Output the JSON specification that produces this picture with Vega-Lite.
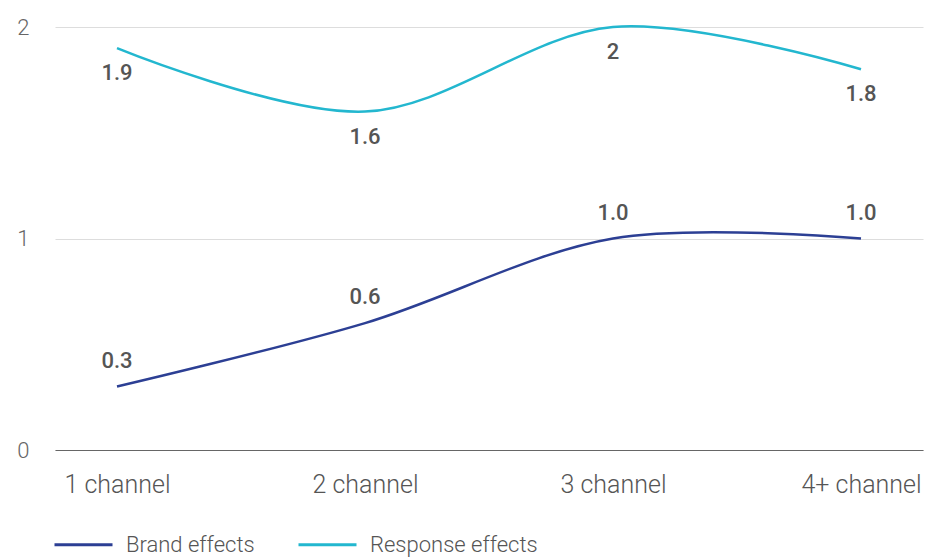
{
  "$schema": "https://vega.github.io/schema/vega-lite/v6.json",
  "autosize": "none",
  "width": 868,
  "height": 423,
  "padding": {"left": 55, "top": 27, "right": 6, "bottom": 107},
  "background": "white",
  "config": {
    "view": {"stroke": null},
    "font": "Roboto"
  },
  "data": {
    "values": [
      {"channels": "1 channel", "series": "Brand effects", "value": 0.3},
      {"channels": "2 channel", "series": "Brand effects", "value": 0.6},
      {"channels": "3 channel", "series": "Brand effects", "value": 1.0},
      {"channels": "4+ channel", "series": "Brand effects", "value": 1.0},
      {"channels": "1 channel", "series": "Response effects", "value": 1.9},
      {"channels": "2 channel", "series": "Response effects", "value": 1.6},
      {"channels": "3 channel", "series": "Response effects", "value": 2.0},
      {"channels": "4+ channel", "series": "Response effects", "value": 1.8}
    ]
  },
  "encoding": {
    "x": {
      "field": "channels",
      "type": "nominal",
      "sort": null,
      "scale": {"type": "point", "padding": 0.25},
      "axis": {
        "title": null,
        "labelAngle": 0,
        "labelFont": "Roboto",
        "labelFontWeight": 300,
        "labelFontSize": 25,
        "labelColor": "#555555",
        "labelPadding": 22,
        "ticks": false,
        "domainColor": "#666666",
        "domainWidth": 1.2,
        "grid": false
      }
    },
    "y": {
      "field": "value",
      "type": "quantitative",
      "scale": {"domain": [0, 2], "nice": false},
      "axis": {
        "title": null,
        "tickCount": 2,
        "labelOverlap": false,
        "labelFont": "Roboto",
        "labelFontWeight": 300,
        "labelFontSize": 22,
        "labelColor": "#666666",
        "labelPadding": 26,
        "ticks": false,
        "domain": false,
        "gridColor": "#dddddd",
        "gridWidth": 1
      }
    }
  },
  "layer": [
    {
      "mark": {"type": "line", "interpolate": "cardinal", "strokeWidth": 2.5},
      "encoding": {
        "color": {
          "field": "series",
          "type": "nominal",
          "scale": {
            "domain": ["Brand effects", "Response effects"],
            "range": ["#2c3f94", "#23b7cf"]
          },
          "legend": {
            "title": null,
            "orient": "none",
            "direction": "horizontal",
            "legendX": -2,
            "legendY": 487,
            "symbolType": "stroke",
            "symbolSize": 3364,
            "symbolStrokeWidth": 3,
            "labelFont": "Roboto",
            "labelFontWeight": 300,
            "labelFontSize": 22,
            "labelColor": "#555555",
            "labelOffset": 12,
            "labelLimit": 400,
            "columnPadding": 37,
            "padding": 0
          }
        }
      }
    },
    {
      "transform": [{"filter": "datum.series === 'Brand effects'"}],
      "mark": {
        "type": "text",
        "dy": -26,
        "font": "Roboto",
        "fontWeight": 500,
        "fontSize": 22,
        "color": "#555555"
      },
      "encoding": {"text": {"field": "value", "type": "quantitative", "format": ".1f"}}
    },
    {
      "transform": [{"filter": "datum.series === 'Response effects'"}],
      "mark": {
        "type": "text",
        "dy": 25,
        "font": "Roboto",
        "fontWeight": 500,
        "fontSize": 22,
        "color": "#555555"
      },
      "encoding": {"text": {"field": "value", "type": "quantitative", "format": "~g"}}
    }
  ]
}
